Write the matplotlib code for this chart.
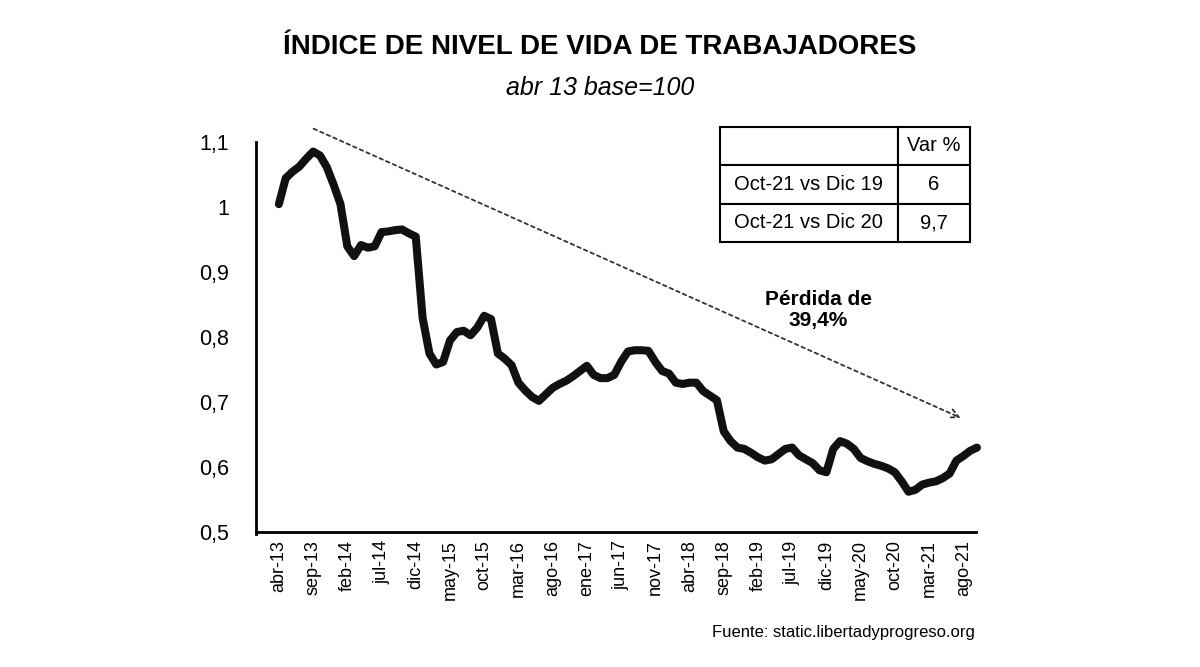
import numpy as np
import matplotlib.pyplot as plt

# datos mensuales abr-13 .. oct-21
meses = ['ene', 'feb', 'mar', 'abr', 'may', 'jun', 'jul', 'ago', 'sep', 'oct', 'nov', 'dic']
etiquetas = []
for anio in range(13, 22):
    for m in meses:
        etiquetas.append(m + '-' + str(anio))
etiquetas = etiquetas[3:3 + 103]

indice = [1.005, 1.045, 1.055, 1.063, 1.075, 1.086, 1.080, 1.062, 1.035, 1.005,
          0.940, 0.925, 0.942, 0.938, 0.940, 0.962, 0.963, 0.965, 0.966, 0.960,
          0.955, 0.830, 0.775, 0.758, 0.762, 0.795, 0.808, 0.810, 0.803, 0.815,
          0.833, 0.828, 0.775, 0.767, 0.757, 0.730, 0.718, 0.708, 0.702, 0.712,
          0.722, 0.728, 0.733, 0.740, 0.748, 0.756, 0.742, 0.737, 0.737, 0.742,
          0.762, 0.778, 0.780, 0.780, 0.779, 0.762, 0.748, 0.744, 0.730, 0.728,
          0.730, 0.730, 0.717, 0.710, 0.703, 0.655, 0.640, 0.630, 0.628, 0.622,
          0.615, 0.610, 0.612, 0.620, 0.628, 0.630, 0.618, 0.612, 0.606, 0.595,
          0.592, 0.628, 0.640, 0.636, 0.628, 0.614, 0.609, 0.605, 0.602, 0.598,
          0.592, 0.578, 0.562, 0.565, 0.573, 0.576, 0.578, 0.583, 0.590, 0.610,
          0.617, 0.625, 0.630]

yticks = [0.5, 0.6, 0.7, 0.8, 0.9, 1.0, 1.1]
ytick_labels = ['0,5', '0,6', '0,7', '0,8', '0,9', '1', '1,1']

tabla = [['', 'Var %'],
         ['Oct-21 vs Dic 19', '6'],
         ['Oct-21 vs Dic 20', '9,7']]

fuente = ['Liberation Sans', 'DejaVu Sans']

fig = plt.figure(figsize=(12, 6.67), dpi=100)
ax = fig.add_axes([0.213, 0.2024, 0.6, 0.584])

x = np.arange(len(indice))
ax.plot(x, indice, color='#111111', lw=5.8, solid_joinstyle='round',
        solid_capstyle='round', clip_on=False)

ax.set_xlim(-3.4, 101.8)
ax.set_ylim(0.5, 1.1)
ax.set_yticks(yticks)
ax.set_yticklabels(ytick_labels, family=fuente, fontsize=15.5)
ax.set_xticks(x[::5])
ax.set_xticklabels(etiquetas[::5], rotation=90, family=fuente, fontsize=13)
ax.tick_params(axis='x', length=0, pad=6)
ax.tick_params(axis='y', length=0, pad=19)
for s in ['top', 'right']:
    ax.spines[s].set_visible(False)
ax.spines['left'].set_linewidth(2)
ax.spines['bottom'].set_linewidth(2)
ax.spines['left'].set_bounds(0.497, 1.1)

# flecha punteada de tendencia
ax.annotate('', xy=(100.0, 0.674), xytext=(4.7, 1.123),
            arrowprops=dict(arrowstyle='->', linestyle=(0, (2, 2)), lw=1.3,
                            color='#333333', mutation_scale=16),
            annotation_clip=False)
ax.text(78.8, 0.842, 'Pérdida de\n39,4%', ha='center', va='center',
        family=fuente, fontsize=15, fontweight='bold', linespacing=1.15)

fig.text(0.5, 0.93, 'ÍNDICE DE NIVEL DE VIDA DE TRABAJADORES', ha='center',
         va='center', family=fuente, fontsize=20, fontweight='bold')
fig.text(0.5, 0.868, 'abr 13 base=100', ha='center', va='center',
         family=fuente, fontsize=18, style='italic')
fig.text(0.8125, 0.052, 'Fuente: static.libertadyprogreso.org', ha='right',
         va='center', family=fuente, fontsize=12)

# tabla de variaciones
tax = fig.add_axes([0.6, 0.637, 0.208, 0.173])
tax.axis('off')
t = tax.table(cellText=tabla, colWidths=[0.712, 0.288], bbox=[0, 0, 1, 1],
              cellLoc='center')
t.auto_set_font_size(False)
for (r, c), cell in t.get_celld().items():
    cell.set_linewidth(1.5)
    cell.get_text().set_fontsize(14.5)
    cell.get_text().set_family(fuente)

fig.savefig('out.png', dpi=100)
